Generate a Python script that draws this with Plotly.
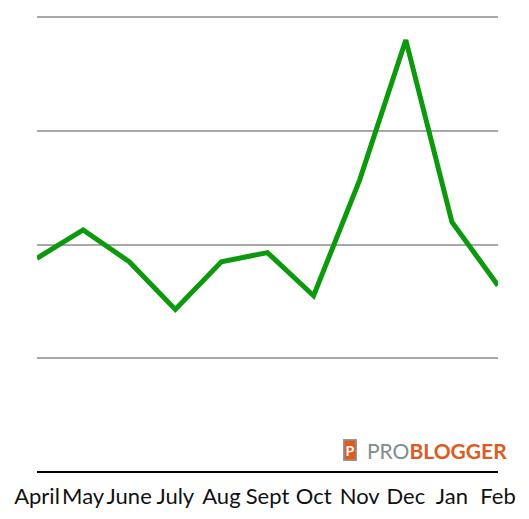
import plotly.graph_objects as go

months = ["April", "May", "June", "July", "Aug", "Sept", "Oct", "Nov", "Dec", "Jan", "Feb"]
values = [188, 213, 185, 143, 185, 193, 155, 257, 380, 220, 164]

fig = go.Figure()
fig.add_trace(go.Scatter(
    x=list(range(len(months))), y=values, mode="lines",
    line=dict(color="#0c9a0c", width=5), hoverinfo="skip", cliponaxis=False,
))

fig.update_layout(
    width=529, height=519,
    margin=dict(l=29, r=39, t=7, b=55, autoexpand=False),
    paper_bgcolor="white", plot_bgcolor="white",
    showlegend=False,
    font=dict(family="Lato, sans-serif", size=22, color="#111"),
    xaxis=dict(
        range=[0, len(months) - 1], automargin=False,
        tickmode="array", tickvals=list(range(len(months))), ticktext=months,
        tickangle=0,
        showgrid=False, zeroline=False, showline=False, ticks="",
        tickfont=dict(size=22, color="#111"), ticklabelstandoff=9,
    ),
    yaxis=dict(
        range=[0, 402], tickvals=[0, 100, 200, 300, 400], showticklabels=False,
        automargin=False,
        showgrid=True, gridcolor="#a8a8a8", gridwidth=1.5,
        zeroline=True, zerolinecolor="#000", zerolinewidth=1.5,
        showline=False, ticks="",
    ),
)

# logo
fig.add_annotation(xref="paper", yref="paper", x=0.68, y=0.048, xanchor="center", yanchor="middle",
                   text="<b>P</b>", showarrow=False, font=dict(family="Lato", size=14, color="white"),
                   bgcolor="#e05a1e", bordercolor="#8a9aa0", borderwidth=1.5, borderpad=1)
fig.add_annotation(xref="paper", yref="paper", x=0.712, y=0.048, xanchor="left", yanchor="middle",
                   text="<span style='color:#7f8c90'>PRO</span><b><span style='color:#e05a1e'>BLOGGER</span></b>",
                   showarrow=False, font=dict(family="Lato", size=21))

fig.write_html("out.html")
